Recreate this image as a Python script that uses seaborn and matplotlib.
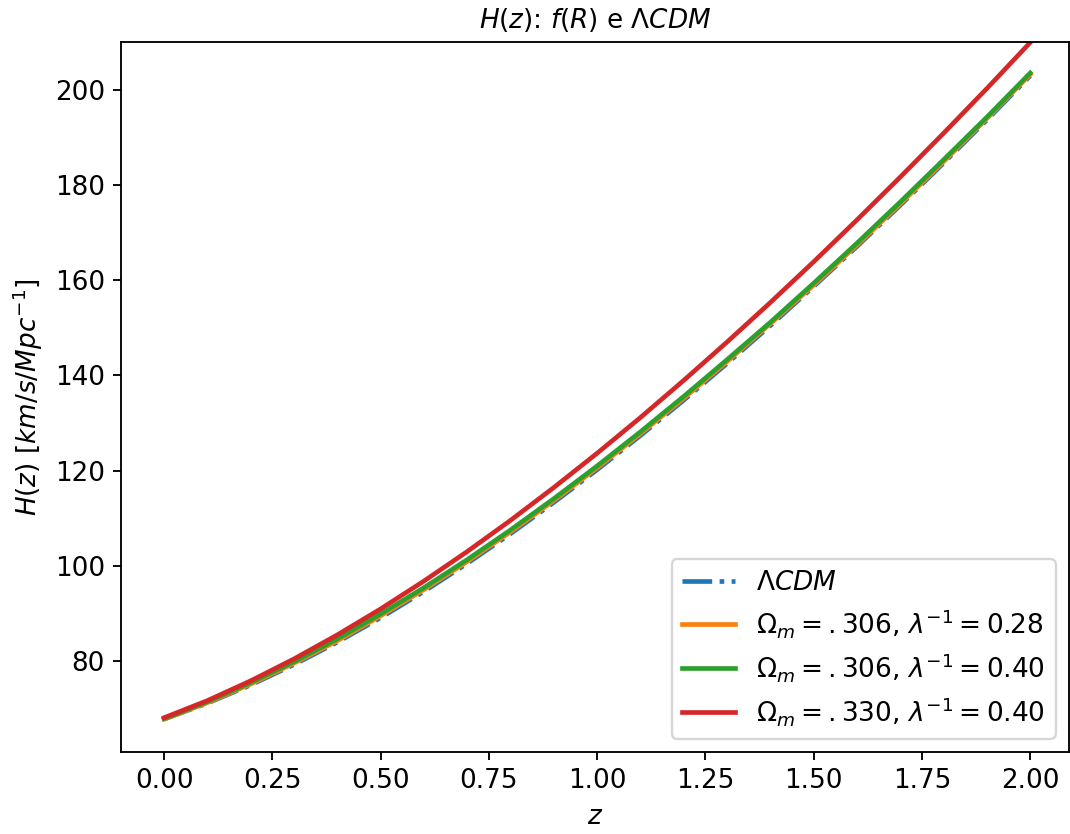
import matplotlib
matplotlib.use("Agg")
import matplotlib.pyplot as plt
import seaborn as sns
import pandas as pd

# Redshift grid
z = [0.0, 0.1, 0.2, 0.3, 0.4, 0.5, 0.6, 0.7, 0.8, 0.9, 1.0,
     1.1, 1.2, 1.3, 1.4, 1.5, 1.6, 1.7, 1.8, 1.9, 2.0]

# Hubble rate H(z) [km/s/Mpc] for each model
h_lcdm = [67.80, 71.15, 74.97, 79.25, 83.96, 89.09, 94.61, 100.50, 106.74, 113.31, 120.18,
          127.35, 134.79, 142.49, 150.45, 158.65, 167.07, 175.72, 184.58, 193.64, 202.90]
h_306_028 = [67.80, 71.25, 75.17, 79.55, 84.26, 89.49, 95.01, 100.90, 107.14, 113.71, 120.58,
             127.75, 135.19, 142.89, 150.85, 158.95, 167.37, 176.02, 184.88, 193.94, 203.20]
h_306_040 = [67.90, 71.45, 75.47, 79.85, 84.66, 89.89, 95.41, 101.30, 107.54, 114.11, 120.98,
             128.15, 135.59, 143.29, 151.15, 159.35, 167.77, 176.42, 185.28, 194.24, 203.50]
h_330_040 = [68.10, 71.70, 75.85, 80.45, 85.50, 90.95, 96.80, 103.00, 109.55, 116.45, 123.65,
             131.15, 138.95, 147.00, 155.30, 163.85, 172.65, 181.65, 190.85, 200.25, 209.90]

labels = [r"$\Lambda CDM$",
          r"$\Omega_m = .306$, $\lambda^{-1} = 0.28$",
          r"$\Omega_m = .306$, $\lambda^{-1} = 0.40$",
          r"$\Omega_m = .330$, $\lambda^{-1} = 0.40$"]
series = [h_lcdm, h_306_028, h_306_040, h_330_040]
colors = ["#1f77b4", "#ff7f0e", "#2ca02c", "#d62728"]
styles = ["-.", "-", "-", "-"]

fs = 11.3
plt.rcParams["font.size"] = fs

dpi = 167
fig = plt.figure(figsize=(1070 / dpi, 834 / dpi), dpi=dpi)
ax = fig.add_axes([121 / 1070, 1 - 752 / 834, (1069 - 121) / 1070, (752 - 42) / 834])

for lab, vals, col, ls in zip(labels, series, colors, styles):
    df = pd.DataFrame({"z": z, "H": vals})
    sns.lineplot(data=df, x="z", y="H", ax=ax, color=col, linestyle=ls,
                 linewidth=2, label=lab)

ax.set_xlim(-0.0995, 2.0895)
ax.set_ylim(60.9, 210.0)
ax.set_xticks([0.0, 0.25, 0.5, 0.75, 1.0, 1.25, 1.5, 1.75, 2.0])
ax.set_yticks([80, 100, 120, 140, 160, 180, 200])
ax.tick_params(labelsize=fs)
ax.set_xlabel(r"$z$", fontsize=fs)
ax.set_ylabel(r"$H(z)$ $[km/s/Mpc^{-1}]$", fontsize=fs)
ax.set_title(r"$H(z)$: $f(R)$ e $\Lambda CDM$", fontsize=fs)
ax.legend(loc="lower right", fontsize=11.4, labelspacing=0.42)

fig.savefig("out.png", dpi=dpi)
